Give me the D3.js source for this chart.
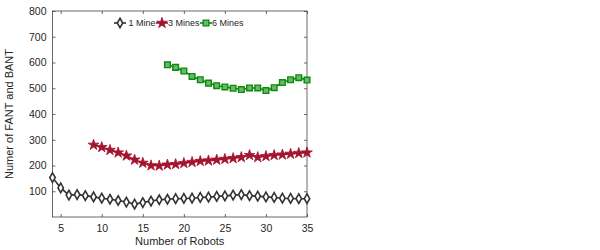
<!DOCTYPE html>
<html><head><meta charset="utf-8">
<script src="https://cdn.jsdelivr.net/npm/d3@7"></script>
<style>body{margin:0;background:#fff}svg{display:block}text{font-family:"Liberation Sans",Arial,sans-serif}</style>
</head><body><svg id="c" width="600" height="250"></svg>
<script>
const robots1 = d3.range(4, 36);
const mine1 = [153,113,85,87,83,78,73,69,64,58,50,56,62,67,69,71,72,73,76,77,80,82,85,87,83,81,78,76,73,72,71,71];
const robots3 = d3.range(9, 36);
const mine3 = [280,271,260,250,238,222,210,200,199,203,205,209,213,217,219,222,225,228,232,240,232,236,240,242,245,248,250];
const robots6 = d3.range(18, 36);
const mine6 = [591,581,567,546,533,520,510,505,500,495,501,501,491,502,522,533,541,532];
const xTicks = [5,10,15,20,25,30,35];
const yTicks = [100,200,300,400,500,600,700,800];
const seriesNames = ["1 Mine","3 Mines","6 Mines"];

const svg = d3.select("#c");
const L=52.5, R=307, T=11, B=217;
const x = d3.scaleLinear().domain([4,35]).range([L,R]);
const y = d3.scaleLinear().domain([0,800]).range([B,T]);

const axisColor="#444";
const g = svg.append("g");
g.append("rect").attr("x",L).attr("y",T).attr("width",R-L).attr("height",B-T)
 .attr("fill","none").attr("stroke",axisColor).attr("stroke-width",0.8);

function styleAxis(sel){
  sel.select(".domain").remove();
  sel.selectAll(".tick line").attr("stroke",axisColor).attr("stroke-width",0.8);
  sel.selectAll(".tick text").attr("fill","#262626").attr("font-size",10.5).attr("font-family","Liberation Sans, Arial, sans-serif");
}
g.append("g").attr("transform",`translate(0,${B})`)
 .call(d3.axisBottom(x).tickValues(xTicks).tickSizeInner(-3).tickSizeOuter(0).tickPadding(8)).call(styleAxis);
g.append("g").attr("transform",`translate(0,${T})`)
 .call(d3.axisTop(x).tickValues(xTicks).tickSizeInner(-3).tickSizeOuter(0).tickFormat("")).call(styleAxis);
g.append("g").attr("transform",`translate(${L},0)`)
 .call(d3.axisLeft(y).tickValues(yTicks).tickSizeInner(-3).tickSizeOuter(0).tickPadding(6)).call(styleAxis);
g.append("g").attr("transform",`translate(${R},0)`)
 .call(d3.axisRight(y).tickValues(yTicks).tickSizeInner(-3).tickSizeOuter(0).tickFormat("")).call(styleAxis);

svg.append("text").attr("x",(L+R)/2).attr("y",245).attr("text-anchor","middle")
 .attr("font-size",11).attr("fill","#262626").text("Number of Robots");
svg.append("text").attr("transform",`translate(13,${(T+B)/2}) rotate(-90)`).attr("text-anchor","middle")
 .attr("font-size",11).attr("fill","#262626").text("Numer of FANT and BANT");

const series = [
  {name:seriesNames[0], xs:robots1, ys:mine1, color:"#333333", sym:d3.symbolDiamond, size:26, fill:"#ffffff", sw:1.6, sx:1},
  {name:seriesNames[1], xs:robots3, ys:mine3, color:"#A2142F", sym:d3.symbolStar, size:36, fill:"#A2142F", sw:0.8, sx:1},
  {name:seriesNames[2], xs:robots6, ys:mine6, color:"#0b8a0b", sym:d3.symbolSquare, size:32, fill:"#6ab86a", sw:1.4, sx:1}
];
const line = d3.line().x(d=>x(d[0])).y(d=>y(d[1]));
series.forEach(s=>{
  const pts = s.xs.map((v,i)=>[v,s.ys[i]]);
  svg.append("path").datum(pts).attr("d",line).attr("fill","none").attr("stroke",s.color).attr("stroke-width",1.6);
  svg.append("g").selectAll("path").data(pts).join("path")
   .attr("transform",d=>`translate(${x(d[0])},${y(d[1])}) scale(${s.sx},1)`)
   .attr("d",d3.symbol().type(s.sym).size(s.size))
   .attr("fill",s.fill).attr("stroke",s.color).attr("stroke-width",s.sw);
});

const lg = svg.append("g");
const legX=[120,162,206], legTX=[128.5,168,212], ly=23;
series.forEach((s,i)=>{
  lg.append("line").attr("x1",legX[i]-6).attr("x2",legX[i]+6).attr("y1",ly).attr("y2",ly).attr("stroke",s.color).attr("stroke-width",1.6);
  lg.append("path").attr("transform",`translate(${legX[i]},${ly}) scale(${s.sx},1)`)
   .attr("d",d3.symbol().type(s.sym).size(s.size)).attr("fill",s.fill).attr("stroke",s.color).attr("stroke-width",s.sw);
  lg.append("text").attr("x",legTX[i]).attr("y",ly+3).attr("font-size",9).attr("fill","#262626").text(s.name);
});
</script></body></html>
